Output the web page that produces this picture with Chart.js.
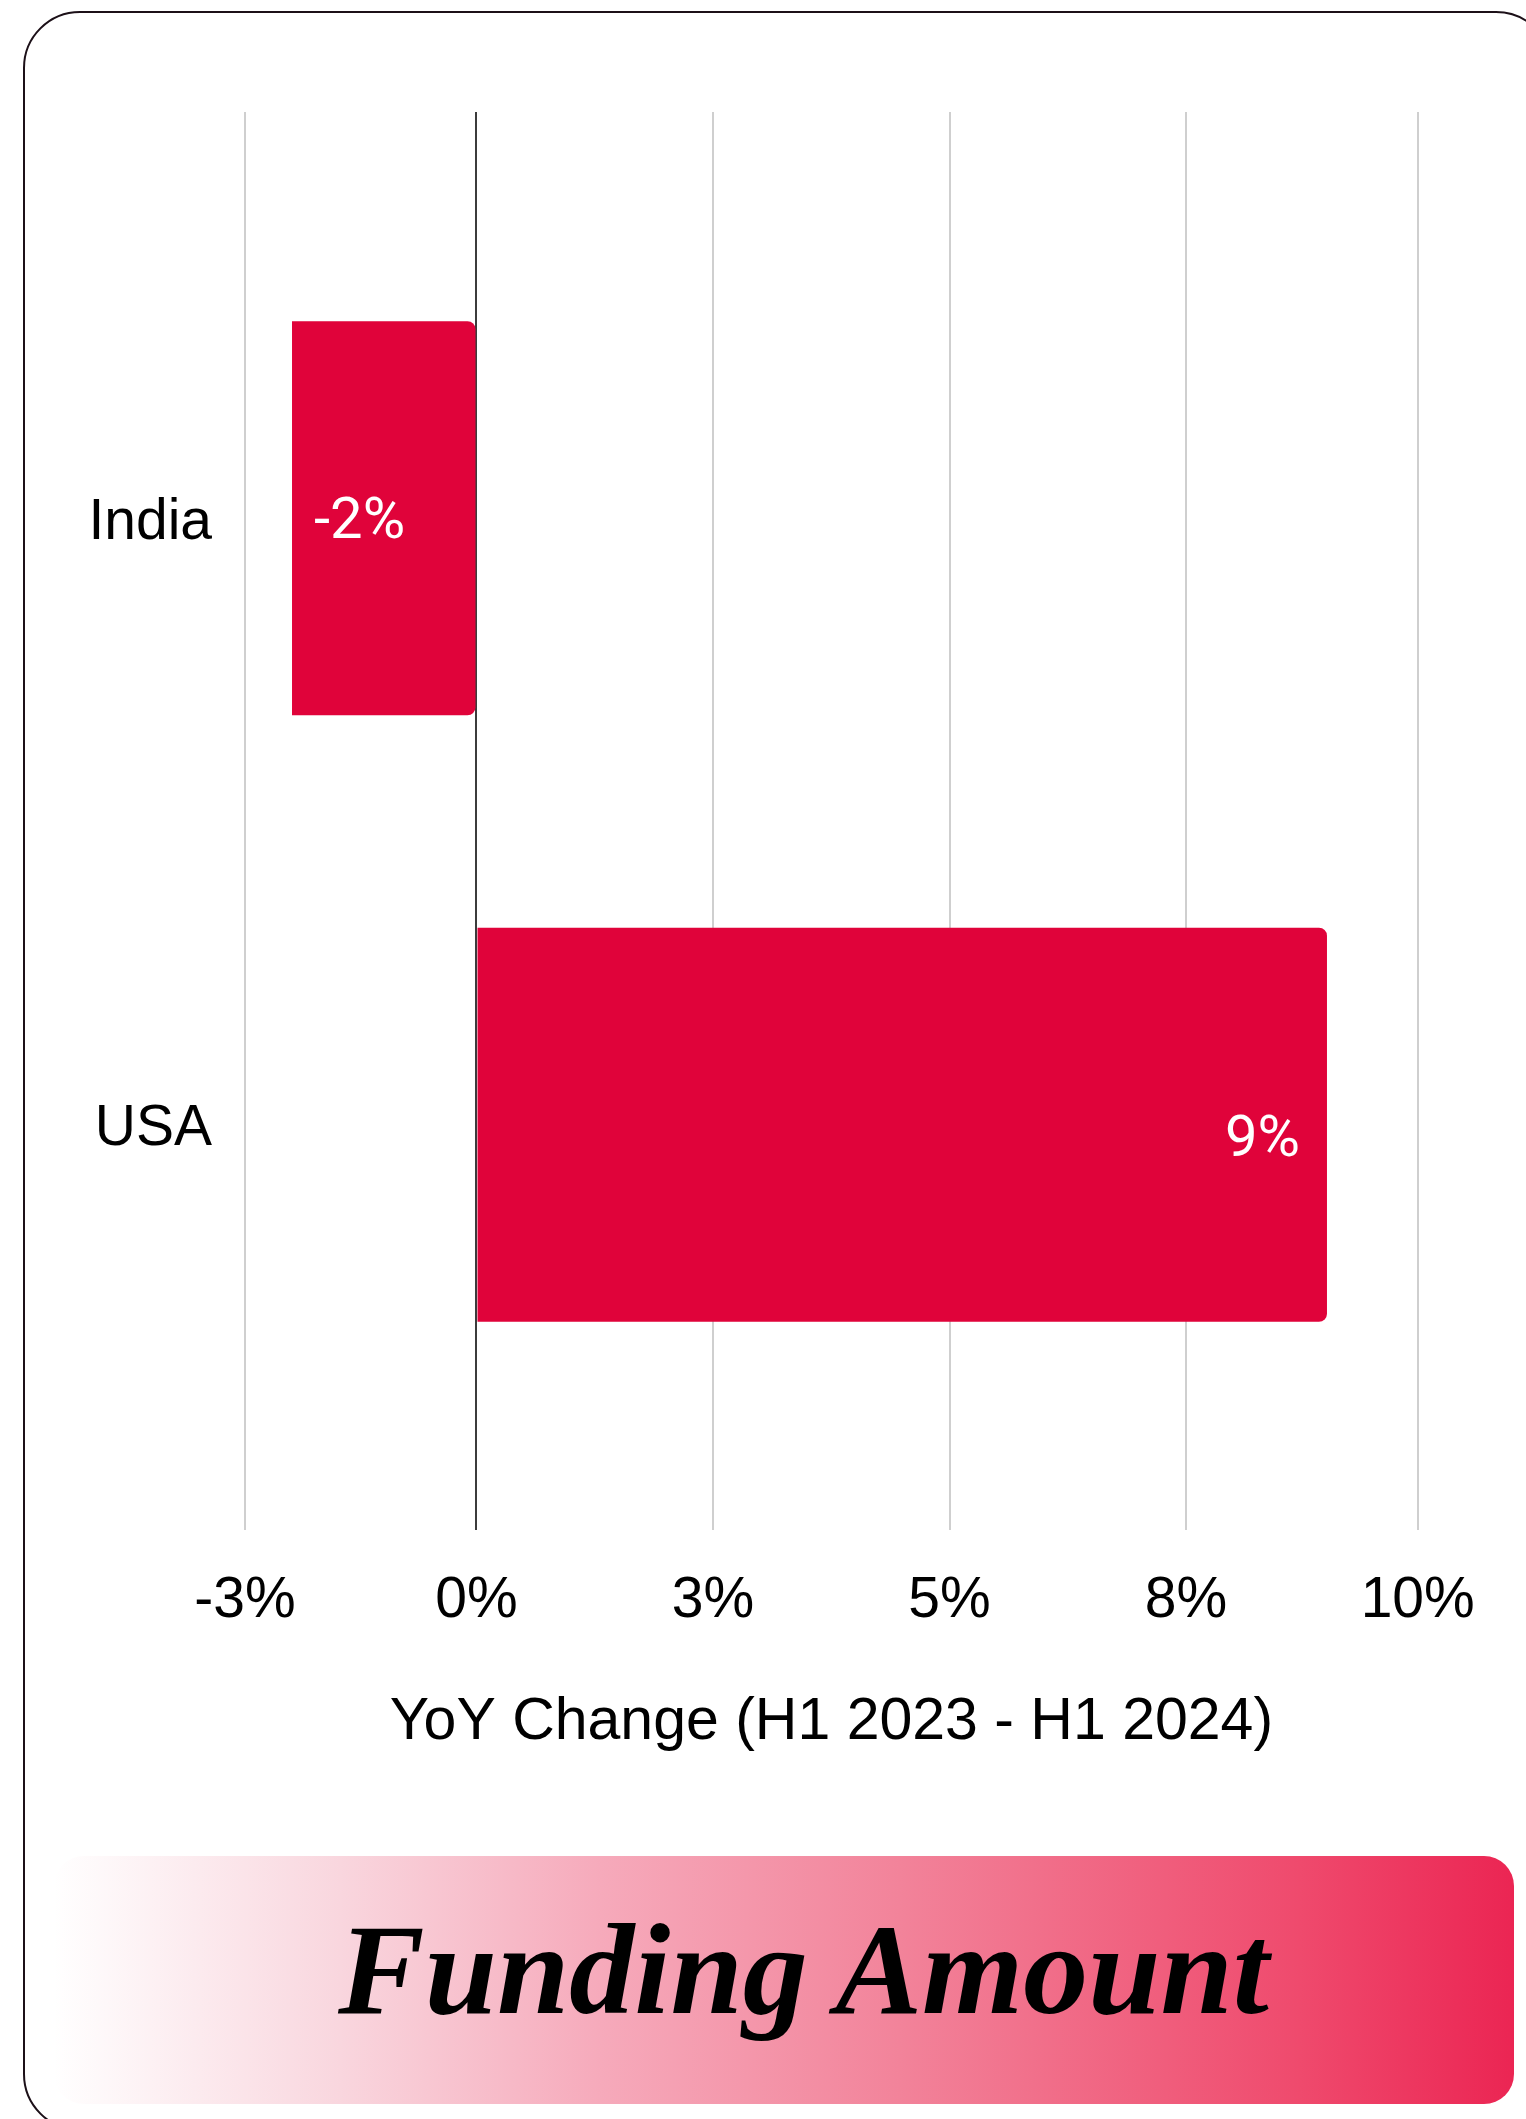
<!DOCTYPE html>
<html>
<head>
<meta charset="utf-8">
<script src="https://cdn.jsdelivr.net/npm/chart.js@4"></script>
<style>
	html, body { margin: 0; padding: 0; background: #fff; }
	body { width: 1526px; height: 2119px; position: relative; overflow: hidden; }
	.card {
		position: absolute; left: 23px; top: 11px; width: 1530px; height: 2120px;
		border: 2.5px solid #1c1018; border-radius: 57px; box-sizing: border-box;
	}
	.chart-box { position: absolute; left: 0; top: 0; width: 1526px; height: 1760px; }
	.banner {
		position: absolute; left: 54px; top: 1856px; width: 1460px; height: 248px;
		border-radius: 30px;
		background: linear-gradient(to right, #ffffff 0%, #f9d6de 19.6%, #f6aabb 37.4%, #f2839a 57.9%, #ef4a6d 85.3%, #eb2553 100%);
	}
	.banner span {
		position: absolute; left: 284px; top: 48px;
		font-family: "Liberation Serif", serif; font-weight: bold; font-style: italic;
		font-size: 130px; line-height: 1; color: #000; white-space: nowrap;
	}
</style>
</head>
<body>
<div class="card"></div>
<div class="chart-box"><canvas id="chart"></canvas></div>
<div class="banner"><span>Funding Amount</span></div>

<script>
const countries = ["India", "USA"];
const yoyChange = [-1.95, 8.99];
// axis ends sit a touch inside -2.5 / 10, gridlines at 0, 2.5, 5, 7.5 in between
const axisMin = -2.447;
const axisMax = 9.949;
const tickValues = [axisMin, 0, 2.5, 5, 7.5, axisMax];
const tickLabels = ["-3%", "0%", "3%", "5%", "8%", "10%"];

const barColor = "#e0033a";

// white % labels painted inside each bar
const barLabels = {
	id: "barLabels",
	afterDatasetsDraw(chart) {
		const { ctx } = chart;
		const meta = chart.getDatasetMeta(0);
		ctx.save();
		ctx.font = "58px Roboto";
		ctx.fillStyle = "#fff";
		ctx.textBaseline = "middle";
		meta.data.forEach((bar, i) => {
			const v = yoyChange[i];
			const txt = Math.round(v) + "%";
			if (v < 0) {
				ctx.textAlign = "left";
				ctx.fillText(txt, bar.x + 22, bar.y + 5);
			} else {
				ctx.textAlign = "right";
				ctx.fillText(txt, bar.x - 27, bar.y + 17);
			}
		});
		ctx.restore();
	},
};

const gridColor = (c) => (c.tick && c.tick.value === 0 ? "#3c3c3c" : "#cfcfcf");
const setTicks = (scale) => { scale.ticks = tickValues.map((v) => ({ value: v })); };

const ctx = document.getElementById("chart").getContext("2d");
new Chart(ctx, {
	type: "bar",
	data: {
		labels: countries,
		datasets: [
			{
				data: yoyChange,
				backgroundColor: barColor,
				borderWidth: 0,
				borderSkipped: false,
				borderRadius: { topLeft: 0, bottomLeft: 0, topRight: 8, bottomRight: 8 },
				categoryPercentage: 1,
				barPercentage: 0.65,
			},
		],
	},
	options: {
		indexAxis: "y",
		responsive: true,
		maintainAspectRatio: false,
		animation: false,
		layout: { padding: { top: 112, right: 108.3, bottom: 0, left: 0 } },
		plugins: {
			legend: { display: false },
			tooltip: { enabled: false },
		},
		scales: {
			x: {
				position: "bottom",
				min: axisMin,
				max: axisMax,
				afterBuildTicks: setTicks,
				border: { display: false },
				grid: { color: gridColor, tickColor: gridColor, lineWidth: 2, tickLength: 102 },
				ticks: {
					autoSkip: false,
					maxRotation: 0,
					padding: 37,
					color: "#000",
					font: { family: "Liberation Sans", size: 57 },
					callback: (value, index) => tickLabels[index],
				},
				title: {
					display: true,
					text: "YoY Change (H1 2023 - H1 2024)",
					color: "#000",
					font: { family: "Liberation Sans", size: 59 },
					padding: { top: 0, bottom: 1.6 },
				},
				afterFit: (scale) => { scale.height = 332; },
			},
			xTop: {
				position: "top",
				min: axisMin,
				max: axisMax,
				afterBuildTicks: setTicks,
				border: { display: false },
				grid: { color: gridColor, tickColor: gridColor, lineWidth: 2, tickLength: 103 },
				ticks: { display: false, autoSkip: false },
				afterFit: (scale) => { scale.height = 103; },
			},
			y: {
				border: { display: false },
				grid: { display: false, drawTicks: false },
				ticks: {
					padding: 33,
					labelOffset: 5,
					color: "#000",
					font: { family: "Liberation Sans", size: 57 },
				},
				afterFit: (scale) => { scale.width = 245; },
			},
		},
	},
	plugins: [barLabels],
});
</script>
</body>
</html>
